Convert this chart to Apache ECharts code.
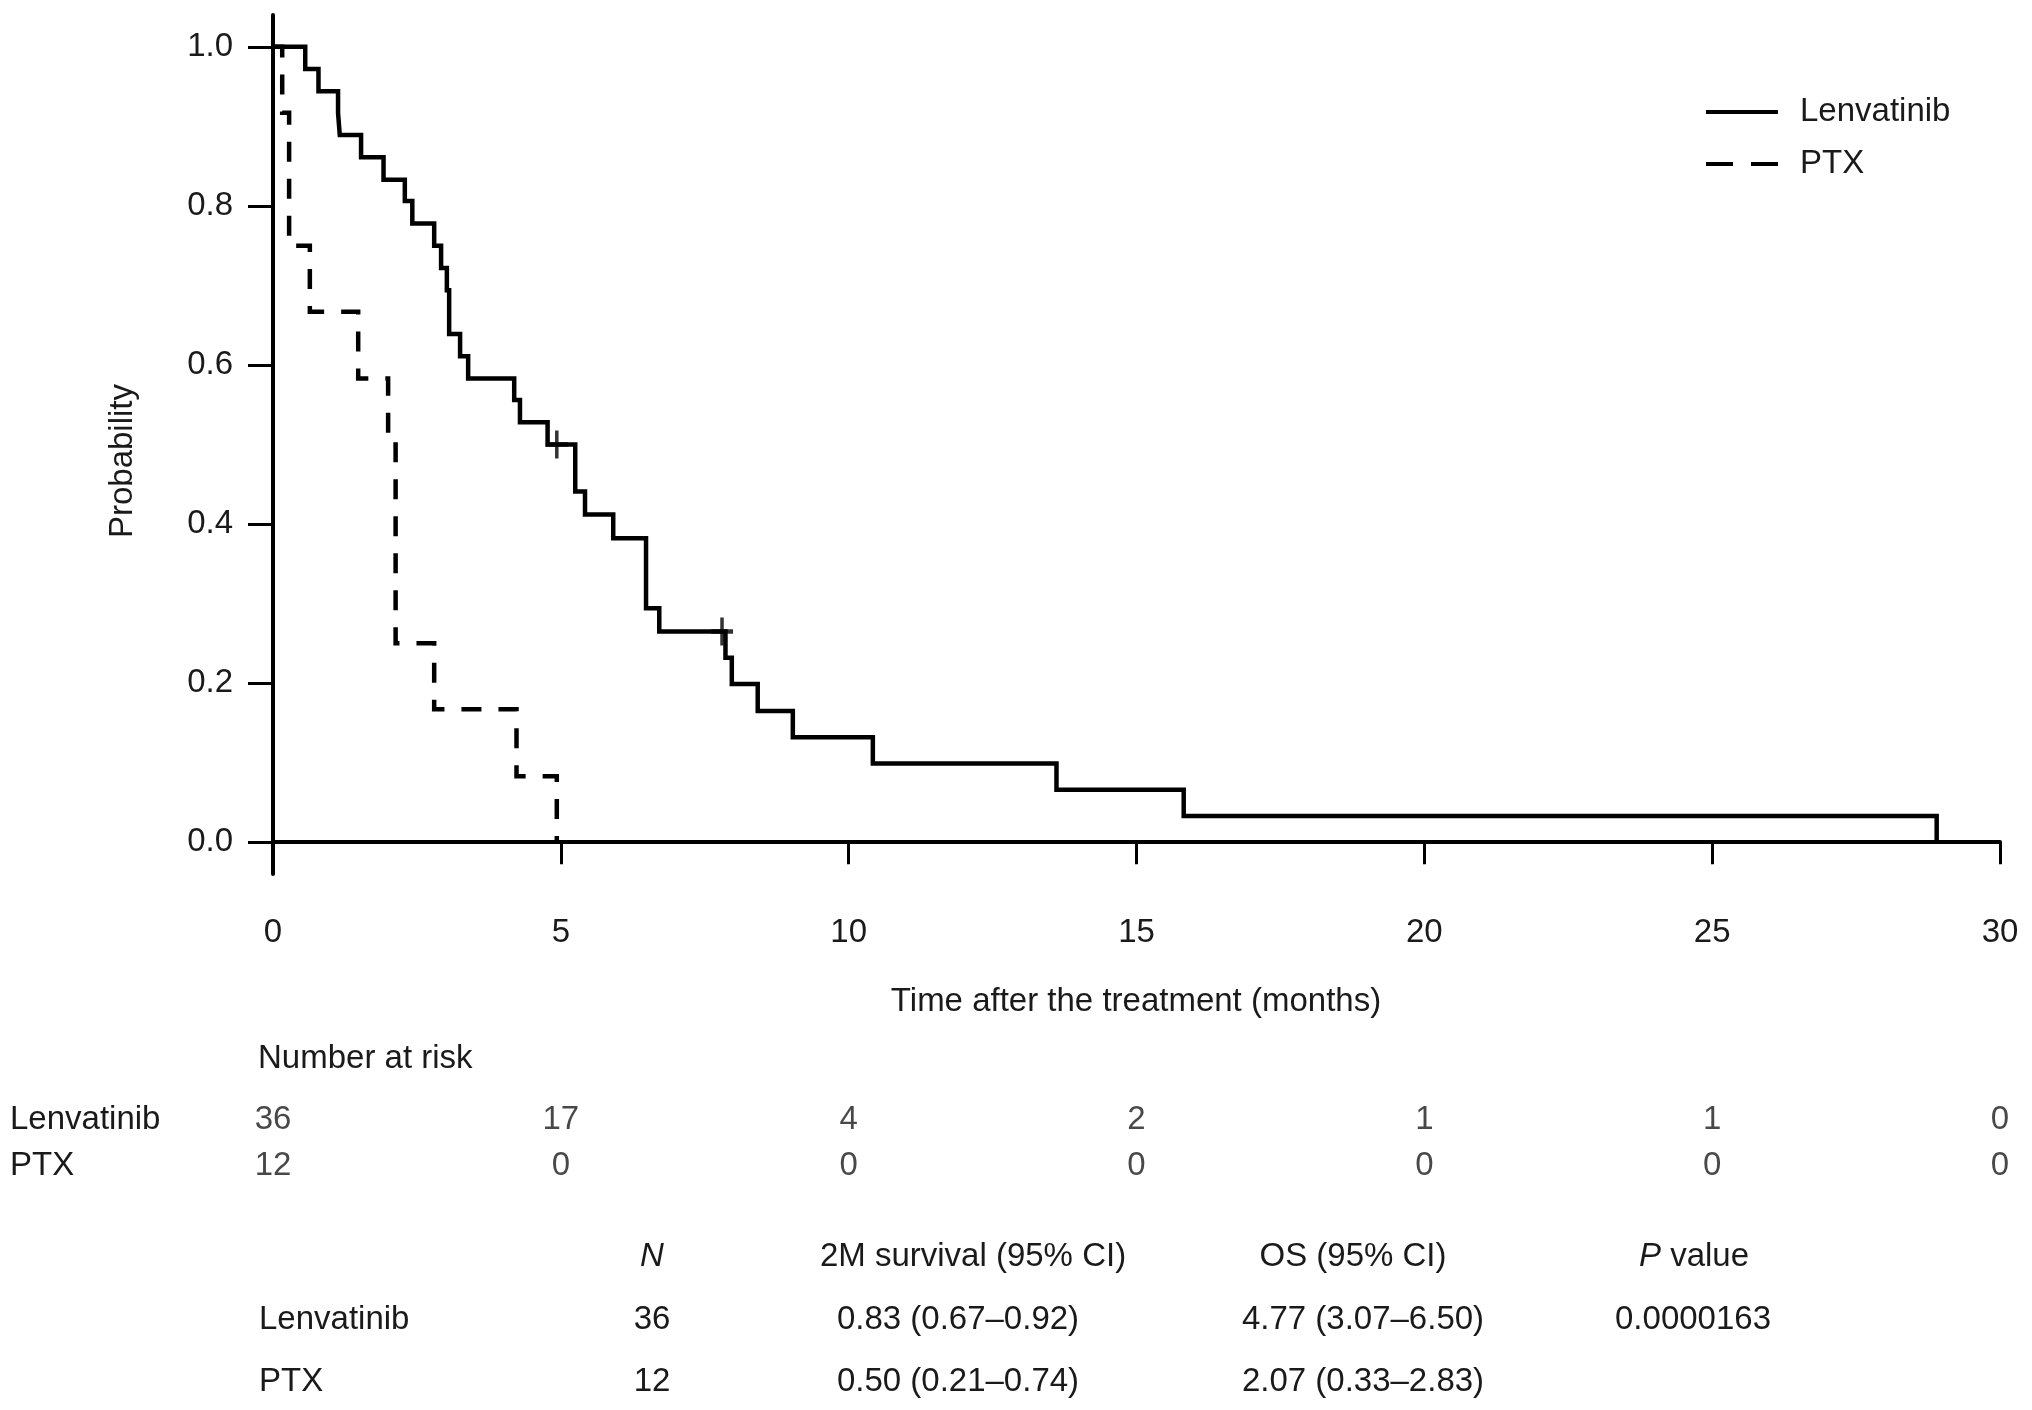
<!DOCTYPE html>
<html><head><meta charset="utf-8">
<script src="https://cdn.jsdelivr.net/npm/echarts@6/dist/echarts.min.js"></script>
<style>html,body{margin:0;padding:0;background:#fff}#c{width:2032px;height:1410px}</style>
</head><body><div id="c"></div>
<script>
// ---- data ----
const lenvTimes = [0, 0.56, 0.79, 1.13, 1.16, 1.53, 1.92, 2.29, 2.42, 2.80, 2.92, 3.02, 3.06, 3.25, 3.39, 4.19, 4.29, 4.77, 5.25, 5.42, 5.91, 6.48, 6.71, 7.86, 7.97, 8.42, 9.03, 10.42, 13.61, 15.82, 28.9];
const lenvSurv  = [1.0, 0.972, 0.944, 0.917, 0.889, 0.861, 0.833, 0.806, 0.778, 0.750, 0.722, 0.694, 0.639, 0.611, 0.583, 0.556, 0.528, 0.500, 0.441, 0.412, 0.382, 0.294, 0.265, 0.232, 0.199, 0.165, 0.132, 0.099, 0.066, 0.033, 0.0];
const lenvCensorTimes = [4.93, 7.80];
const lenvCensorSurv  = [0.500, 0.265];
const ptxTimes = [0, 0.16, 0.28, 0.64, 1.48, 2.00, 2.13, 2.80, 4.23, 4.93];
const ptxSurv  = [1.0, 0.917, 0.750, 0.667, 0.583, 0.500, 0.250, 0.167, 0.083, 0.0];
const yTicks = [0, 0.2, 0.4, 0.6, 0.8, 1.0];
const riskGroups = ['Lenvatinib', 'PTX'];
const riskTimes = [0, 5, 10, 15, 20, 25, 30];
const riskLenv = [36, 17, 4, 2, 1, 1, 0];
const riskPtx  = [12, 0, 0, 0, 0, 0, 0];
const tableHeader = ['', '{i|N}', '2M survival (95% CI)', 'OS (95% CI)', '{i|P} value'];
const tableLenv = ['Lenvatinib', '36', '0.83 (0.67–0.92)', '4.77 (3.07–6.50)', '0.0000163'];
const tablePtx  = ['PTX', '12', '0.50 (0.21–0.74)', '2.07 (0.33–2.83)', ''];

// ---- helpers ----
function stepPoints(times, surv) {
  const pts = [[times[0], surv[0]]];
  for (let i = 1; i < times.length; i++) {
    pts.push([times[i], surv[i - 1]]);
    pts.push([times[i], surv[i]]);
  }
  return pts;
}
const FONT = 'Liberation Sans, Arial, Helvetica, sans-serif';
const TXT = '#1a1a1a';
const FS = 33;

const riskData = [];
riskTimes.forEach((t, i) => {
  riskData.push([t, riskGroups[0], riskLenv[i]]);
  riskData.push([t, riskGroups[1], riskPtx[i]]);
});

// table texts (layout positions only)
const headColX = [259, 652, 973, 1353, 1694];
const bodyColX = [259, 652, 958, 1363, 1693];
const rowY = [1257, 1320, 1382];
const graphics = [];
function addText(x, y, text, align, rich) {
  graphics.push({
    type: 'text', x: x, y: y,
    style: {
      text: text, fill: TXT, font: FS + 'px ' + FONT,
      align: align, verticalAlign: 'middle',
      rich: rich ? { i: { fontStyle: 'italic', fontSize: FS, fontFamily: FONT, fill: TXT } } : undefined
    }
  });
}
tableHeader.forEach((t, i) => { if (t) addText(headColX[i], rowY[0], t, i === 0 ? 'left' : 'center', true); });
tableLenv.forEach((t, i) => { if (t) addText(bodyColX[i], rowY[1], t, i === 0 ? 'left' : 'center'); });
tablePtx.forEach((t, i) => { if (t) addText(bodyColX[i], rowY[2], t, i === 0 ? 'left' : 'center'); });
addText(258, 1059, 'Number at risk', 'left');
addText(1136, 1002, 'Time after the treatment (months)', 'center');
graphics.push({
  type: 'text', x: 123, y: 461, rotation: Math.PI / 2,
  style: { text: 'Probability', fill: TXT, font: FS + 'px ' + FONT, align: 'center', verticalAlign: 'middle' }
});

const plusPath = 'path://M10.5,0 H14.5 V10.5 H25 V14.5 H14.5 V25 H10.5 V14.5 H0 V10.5 H10.5 Z';
const solidIcon = 'path://M0,0 H72 V4 H0 Z';
const dashIcon = 'path://M0,0 H27 V4 H0 Z M45,0 H72 V4 H45 Z';

const chart = echarts.init(document.getElementById('c'));
chart.setOption({
  animation: false,
  backgroundColor: '#fff',
  textStyle: { fontFamily: FONT },
  graphic: graphics,
  legend: {
    orient: 'vertical', left: 1706, top: 92, padding: 0,
    itemWidth: 72, itemHeight: 20, itemGap: 12,
    textStyle: { fontSize: FS, color: TXT, fontFamily: FONT, padding: [0, 0, 0, 17], lineHeight: 40 },
    data: [
      { name: 'Lenvatinib', icon: solidIcon },
      { name: 'PTX', icon: dashIcon }
    ]
  },
  grid: [
    { left: 273, right: 32, top: 15, height: 859, containLabel: false },
    { left: 273, right: 32, top: 1097, height: 92, containLabel: false }
  ],
  xAxis: [
    {
      gridIndex: 0, type: 'value', min: 0, max: 30, interval: 5,
      axisLine: { show: true, lineStyle: { color: '#000', width: 4 } },
      axisTick: { show: true, length: 22, lineStyle: { color: '#000', width: 3 } },
      axisLabel: { fontSize: FS, color: TXT, margin: 42, fontFamily: FONT },
      splitLine: { show: false }
    },
    {
      gridIndex: 1, type: 'value', min: 0, max: 30, show: false
    }
  ],
  yAxis: [
    {
      gridIndex: 0, type: 'value', min: -0.04, max: 1.04,
      axisLine: { show: true, lineStyle: { color: '#000', width: 4 } },
      axisTick: { show: true, length: 25, customValues: yTicks, lineStyle: { color: '#000', width: 3 } },
      axisLabel: { fontSize: FS, color: TXT, margin: 40, customValues: yTicks, fontFamily: FONT,
        formatter: v => v.toFixed(1) },
      splitLine: { show: false }
    },
    {
      gridIndex: 1, type: 'category', data: riskGroups, inverse: true,
      axisLine: { show: false }, axisTick: { show: false }, splitLine: { show: false },
      axisLabel: { fontSize: FS, color: TXT, align: 'left', margin: 263, fontFamily: FONT }
    }
  ],
  series: [
    {
      name: 'Lenvatinib', type: 'line', xAxisIndex: 0, yAxisIndex: 0,
      data: stepPoints(lenvTimes, lenvSurv), symbol: 'none',
      lineStyle: { color: '#000', width: 4.5, type: 'solid', cap: 'butt', join: 'miter' },
      itemStyle: { color: '#000' }, z: 3
    },
    {
      name: 'PTX', type: 'line', xAxisIndex: 0, yAxisIndex: 0,
      data: stepPoints(ptxTimes, ptxSurv), symbol: 'none',
      lineStyle: { color: '#000', width: 4.5, type: [20, 17], cap: 'butt', join: 'miter' },
      itemStyle: { color: '#000' }, z: 3
    },
    {
      name: 'censor', type: 'scatter', xAxisIndex: 0, yAxisIndex: 0,
      data: lenvCensorTimes.map((t, i) => [t, lenvCensorSurv[i]]),
      symbol: plusPath, symbolSize: [22, 28], symbolKeepAspect: false,
      itemStyle: { color: '#000' }, z: 4
    },
    {
      name: 'risk', type: 'scatter', xAxisIndex: 1, yAxisIndex: 1,
      data: riskData, symbolSize: 0,
      label: { show: true, position: 'inside', formatter: p => String(p.value[2]),
        fontSize: FS, color: TXT, fontFamily: FONT }
    }
  ]
});
</script>
</body></html>
